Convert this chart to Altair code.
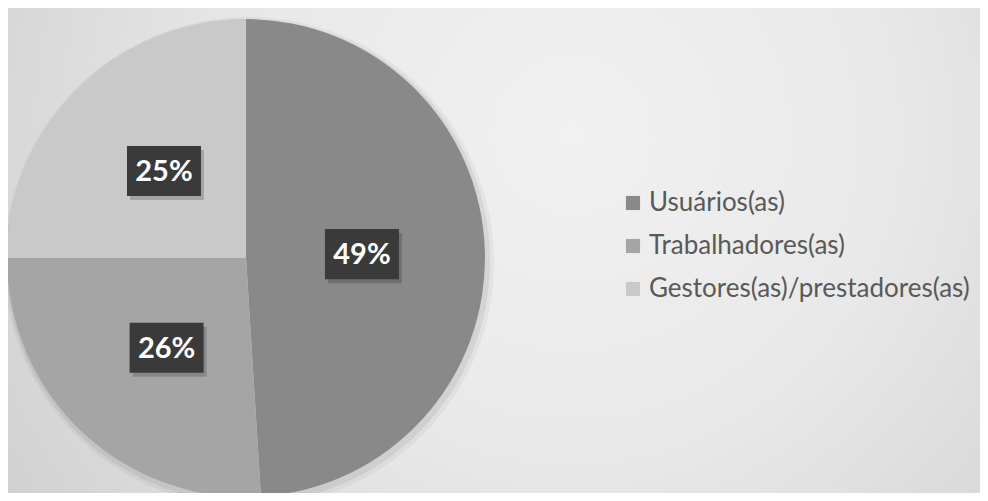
import altair as alt
import pandas as pd

categorias = ["Usuários(as)", "Trabalhadores(as)", "Gestores(as)/prestadores(as)"]
valores = [49, 26, 25]
ordem = [0, 1, 2]
cores = ["#898989", "#a5a5a5", "#c9c9c9"]

W, H = 972, 485
CX, CY = 238, 250
R = 239
RX, RY = 232, 246

df = pd.DataFrame({"categoria": categorias, "valor": valores, "ordem": ordem})

fundo = alt.Chart(pd.DataFrame({"a": [0]})).mark_rect(
    color=alt.RadialGradient(
        gradient="radial",
        x1=0.58, y1=0.38, x2=0.58, y2=0.38, r1=0, r2=0.72,
        stops=[
            alt.GradientStop(color="#f1f1f1", offset=0),
            alt.GradientStop(color="#e9e9e9", offset=0.45),
            alt.GradientStop(color="#cfcfcf", offset=1),
        ],
    )
).encode(x=alt.value(0), x2=alt.value(W), y=alt.value(0), y2=alt.value(H))

sombra1 = alt.Chart(pd.DataFrame({"a": [0]})).mark_arc(
    radius=R + 6, theta=0, theta2=6.2832, color="#000000", opacity=0.04
).encode(x=alt.value(CX + 3), y=alt.value(CY + 4))
sombra2 = alt.Chart(pd.DataFrame({"a": [0]})).mark_arc(
    radius=R + 3, theta=0, theta2=6.2832, color="#000000", opacity=0.06
).encode(x=alt.value(CX + 2), y=alt.value(CY + 3))

base = alt.Chart(df)

fatias = base.mark_arc(radius=R, strokeWidth=0).encode(
    theta=alt.Theta("valor:Q", stack=True),
    order=alt.Order("ordem:Q"),
    color=alt.Color(
        "categoria:N",
        scale=alt.Scale(domain=categorias, range=cores),
        sort=categorias,
        legend=alt.Legend(
            title=None,
            orient="none",
            legendX=612,
            legendY=182,
            symbolType="square",
            symbolSize=200,
            symbolStrokeWidth=0,
            labelFont="Lato",
            labelFontSize=26,
            labelColor="#595959",
            labelOffset=3,
            rowPadding=17,
            labelLimit=400,
        ),
    ),
    x=alt.value(CX),
    y=alt.value(CY),
)

rotulos = base.transform_window(
    cum="sum(valor)", sort=[alt.SortField("ordem")]
).transform_joinaggregate(total="sum(valor)").transform_calculate(
    mid="2*PI*(datum.cum - datum.valor/2)/datum.total",
    lx="0.5*sin(datum.mid)",
    ly="0.5*cos(datum.mid)",
    rotulo="datum.valor + '%'",
)

xs = alt.Scale(domain=[-1, 1], range=[CX - RX, CX + RX])
ys = alt.Scale(domain=[-1, 1], range=[CY + RY, CY - RY])

caixa_path = "M-1,-0.676L1,-0.676L1,0.676L-1,0.676Z"

sombra_caixas = rotulos.mark_point(
    shape=caixa_path, filled=True, size=5476, color="#000000", opacity=0.18,
    strokeWidth=0, xOffset=3, yOffset=4,
).encode(
    x=alt.X("lx:Q", scale=xs, axis=None),
    y=alt.Y("ly:Q", scale=ys, axis=None),
)

caixas = rotulos.mark_point(
    shape=caixa_path, filled=True, size=5476, color="#3a3a3a", opacity=1,
    strokeWidth=0,
).encode(
    x=alt.X("lx:Q", scale=xs, axis=None),
    y=alt.Y("ly:Q", scale=ys, axis=None),
)

textos = rotulos.mark_text(
    font="Lato", fontWeight="bold", fontSize=29, color="#ffffff", baseline="middle", dy=1
).encode(
    x=alt.X("lx:Q", scale=xs, axis=None),
    y=alt.Y("ly:Q", scale=ys, axis=None),
    text="rotulo:N",
)

chart = alt.layer(
    fundo, sombra1, sombra2, fatias, sombra_caixas, caixas, textos
).properties(
    width=W, height=H, padding=0, autosize=alt.AutoSizeParams(type="none")
).configure_view(stroke=None)

chart.save("out.html", embed_options={"renderer": "svg", "actions": False})
